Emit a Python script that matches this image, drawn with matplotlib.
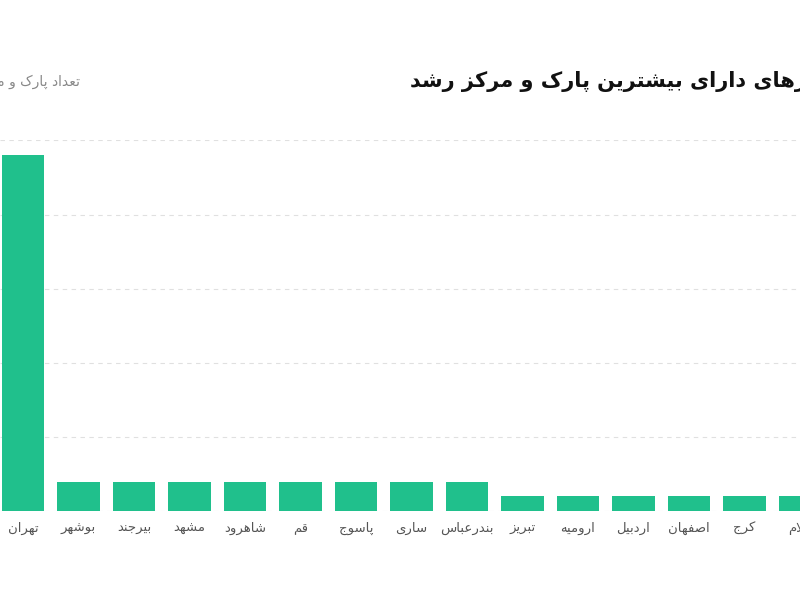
import matplotlib
matplotlib.use("Agg")
import matplotlib.pyplot as plt

cities = ["تهران", "بوشهر", "بیرجند", "مشهد", "شاهرود", "قم", "پاسوج", "ساری",
          "بندرعباس", "تبریز", "ارومیه", "اردبیل", "اصفهان", "کرج", "ایلام"]
counts = [24, 2, 2, 2, 2, 2, 2, 2, 2, 1, 1, 1, 1, 1, 1]
title = "شهرهای دارای بیشترین پارک و مرکز رشد"
ylabel = "تعداد پارک و مرکز رشد"

FORMS = {
    'ا': (0xFE8D, 0xFE8E, None, None), 'ب': (0xFE8F, 0xFE90, 0xFE91, 0xFE92),
    'ت': (0xFE95, 0xFE96, 0xFE97, 0xFE98), 'ج': (0xFE9D, 0xFE9E, 0xFE9F, 0xFEA0),
    'ح': (0xFEA1, 0xFEA2, 0xFEA3, 0xFEA4), 'د': (0xFEA9, 0xFEAA, None, None),
    'ر': (0xFEAD, 0xFEAE, None, None), 'ز': (0xFEAF, 0xFEB0, None, None),
    'س': (0xFEB1, 0xFEB2, 0xFEB3, 0xFEB4), 'ش': (0xFEB5, 0xFEB6, 0xFEB7, 0xFEB8),
    'ص': (0xFEB9, 0xFEBA, 0xFEBB, 0xFEBC), 'ع': (0xFEC9, 0xFECA, 0xFECB, 0xFECC),
    'ف': (0xFED1, 0xFED2, 0xFED3, 0xFED4), 'ق': (0xFED5, 0xFED6, 0xFED7, 0xFED8),
    'ل': (0xFEDD, 0xFEDE, 0xFEDF, 0xFEE0), 'م': (0xFEE1, 0xFEE2, 0xFEE3, 0xFEE4),
    'ن': (0xFEE5, 0xFEE6, 0xFEE7, 0xFEE8), 'ه': (0xFEE9, 0xFEEA, 0xFEEB, 0xFEEC),
    'و': (0xFEED, 0xFEEE, None, None), 'ی': (0xFBFC, 0xFBFD, 0xFBFE, 0xFBFF),
    'پ': (0xFB56, 0xFB57, 0xFB58, 0xFB59), 'ک': (0xFB8E, 0xFB8F, 0xFB90, 0xFB91),
    'گ': (0xFB92, 0xFB93, 0xFB94, 0xFB95),
    'لا': (0xFEFB, 0xFEFC, None, None),
}

def shape(s):
    toks = []
    i = 0
    while i < len(s):
        if s[i] == 'ل' and i + 1 < len(s) and s[i + 1] == 'ا':
            toks.append('لا'); i += 2
        else:
            toks.append(s[i]); i += 1
    out = []
    for k, t in enumerate(toks):
        if t not in FORMS:
            out.append(t); continue
        f = FORMS[t]
        prev = toks[k - 1] if k > 0 else None
        nxt = toks[k + 1] if k + 1 < len(toks) else None
        jp = prev in FORMS and FORMS[prev][2] is not None
        jn = nxt in FORMS and f[2] is not None
        if jp and jn:
            c = f[3]
        elif jp:
            c = f[1]
        elif jn:
            c = f[2]
        else:
            c = f[0]
        out.append(chr(c))
    return ''.join(reversed(out))

plt.rcParams['font.family'] = ['DejaVu Sans']
fig = plt.figure(figsize=(8, 6), dpi=100)
ax = fig.add_axes([0, 0.148, 1, 0.618])
x = list(range(len(cities)))
ax.bar(x, counts, width=0.77, color="#20c08c", zorder=3)
ax.set_xlim(-0.413, 13.95)
ax.set_ylim(0, 25)
ax.set_yticks([0, 5, 10, 15, 20, 25])
ax.yaxis.grid(True, linestyle=(0, (4, 4)), color="#e0e0e0", linewidth=0.8, zorder=0)
ax.tick_params(axis='y', length=0, labelleft=False)
ax.tick_params(axis='x', length=0, pad=8, labelsize=9.5, labelcolor="#555555")
ax.set_xticks(x)
ax.set_xticklabels([shape(c) for c in cities])
for s in ax.spines.values():
    s.set_visible(False)
fig.text(0.512, 0.865, shape(title), ha='left', va='center', fontsize=15,
         fontweight='bold', color="#111111")
fig.text(0.1, 0.863, shape(ylabel), ha='right', va='center', fontsize=10, color="#888888")
fig.savefig("out.png", dpi=100)
